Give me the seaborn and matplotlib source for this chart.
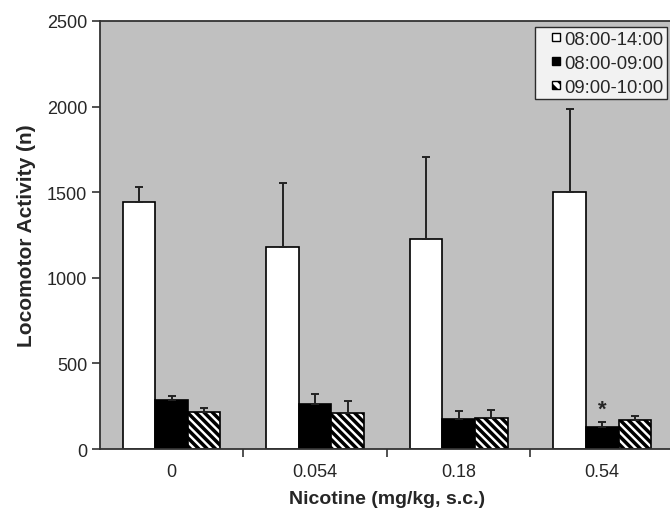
import numpy as np
import pandas as pd
import matplotlib
matplotlib.use("Agg")
import matplotlib.pyplot as plt
import seaborn as sns
from matplotlib.patches import Patch, Rectangle
from matplotlib.legend_handler import HandlerPatch

# data
doses = ["0", "0.054", "0.18", "0.54"]
periods = ["08:00-14:00", "08:00-09:00", "09:00-10:00"]
mean_0814 = [1440, 1180, 1225, 1500]
sem_0814 = [90, 375, 480, 485]
mean_0809 = [285, 265, 175, 130]
sem_0809 = [25, 55, 45, 25]
mean_0910 = [215, 210, 180, 170]
sem_0910 = [25, 70, 50, 25]
signif = ["", "", "", "*"]   # marks over the 08:00-09:00 bars

means = [mean_0814, mean_0809, mean_0910]
sems = [sem_0814, sem_0809, sem_0910]

df = pd.DataFrame({
    "dose": doses * 3,
    "period": np.repeat(periods, len(doses)),
    "activity": np.concatenate(means),
})

sns.set_style("ticks")
plt.rcParams["font.family"] = ["Liberation Sans", "DejaVu Sans"]
plt.rcParams["hatch.linewidth"] = 2.5

fig = plt.figure(figsize=(6.7, 5.1), dpi=100)
ax = fig.add_axes([0.149, 0.1176, 0.857, 0.8393])
ax.set_facecolor("#c0c0c0")

colors = ["white", "black", "white"]
sns.barplot(data=df, x="dose", y="activity", hue="period", order=doses,
            hue_order=periods, palette=colors, errorbar=None, width=0.68,
            edgecolor="black", linewidth=1.2, legend=False, ax=ax)

# bar containers come grouped by hue; add hatch and one-sided error bars
bar_conts = list(ax.containers)
for i, cont in enumerate(bar_conts):
    for j, bar in enumerate(cont):
        if i == 2:
            bar.set_hatch("\\\\\\\\")
        x = bar.get_x() + bar.get_width() / 2
        ax.errorbar(x, means[i][j], yerr=[[0], [sems[i][j]]], fmt="none",
                    ecolor="#222222", elinewidth=1.4, capsize=3, capthick=1.4,
                    zorder=1)
        if i == 1 and signif[j]:
            ax.text(x, means[i][j] + sems[i][j] + 15, signif[j], ha="center",
                    va="bottom", fontsize=16, fontweight="bold")

ax.set_ylim(0, 2500)
ax.set_xlim(-0.5, 3.5)
ax.set_yticks([0, 500, 1000, 1500, 2000, 2500])
ax.tick_params(axis="y", labelsize=13, length=6, width=1.2, color="#333333", pad=3)
ax.set_xticks(range(len(doses)))
ax.set_xticklabels(doses)
ax.tick_params(axis="x", which="major", length=0, labelsize=13, pad=10)
ax.set_xticks([0.5, 1.5, 2.5], minor=True)
ax.tick_params(axis="x", which="minor", length=6, width=1.2, color="#333333")

for side in ["left", "bottom", "top", "right"]:
    ax.spines[side].set_color("#333333")
    ax.spines[side].set_linewidth(1.3)

ax.set_xlabel("Nicotine (mg/kg, s.c.)", fontsize=14, fontweight="bold", labelpad=7)
ax.set_ylabel("Locomotor Activity (n)", fontsize=15, fontweight="bold", labelpad=8)


# small square legend keys sitting at the right end of the handle box
def small_square(legend, orig_handle, xdescent, ydescent, width, height, fontsize):
    size = 0.42 * fontsize
    return Rectangle((width - size - xdescent, (height - size) / 2 - ydescent), size, size)


handles = [Patch(facecolor="white", edgecolor="black", linewidth=1.0),
           Patch(facecolor="black", edgecolor="black", linewidth=1.0),
           Patch(facecolor="white", edgecolor="black", linewidth=1.0, hatch="\\\\\\")]
leg = ax.legend(handles, periods, loc="upper right", bbox_to_anchor=(0.988, 0.986),
                fontsize=13.3, frameon=True, fancybox=False, handlelength=1.15,
                handleheight=0.7, handletextpad=0.25, borderpad=0.2,
                labelspacing=0.38, borderaxespad=0.0,
                handler_map={Patch: HandlerPatch(patch_func=small_square)})
leg.get_frame().set_edgecolor("black")
leg.get_frame().set_linewidth(1.0)

fig.savefig("out.png", dpi=100)
